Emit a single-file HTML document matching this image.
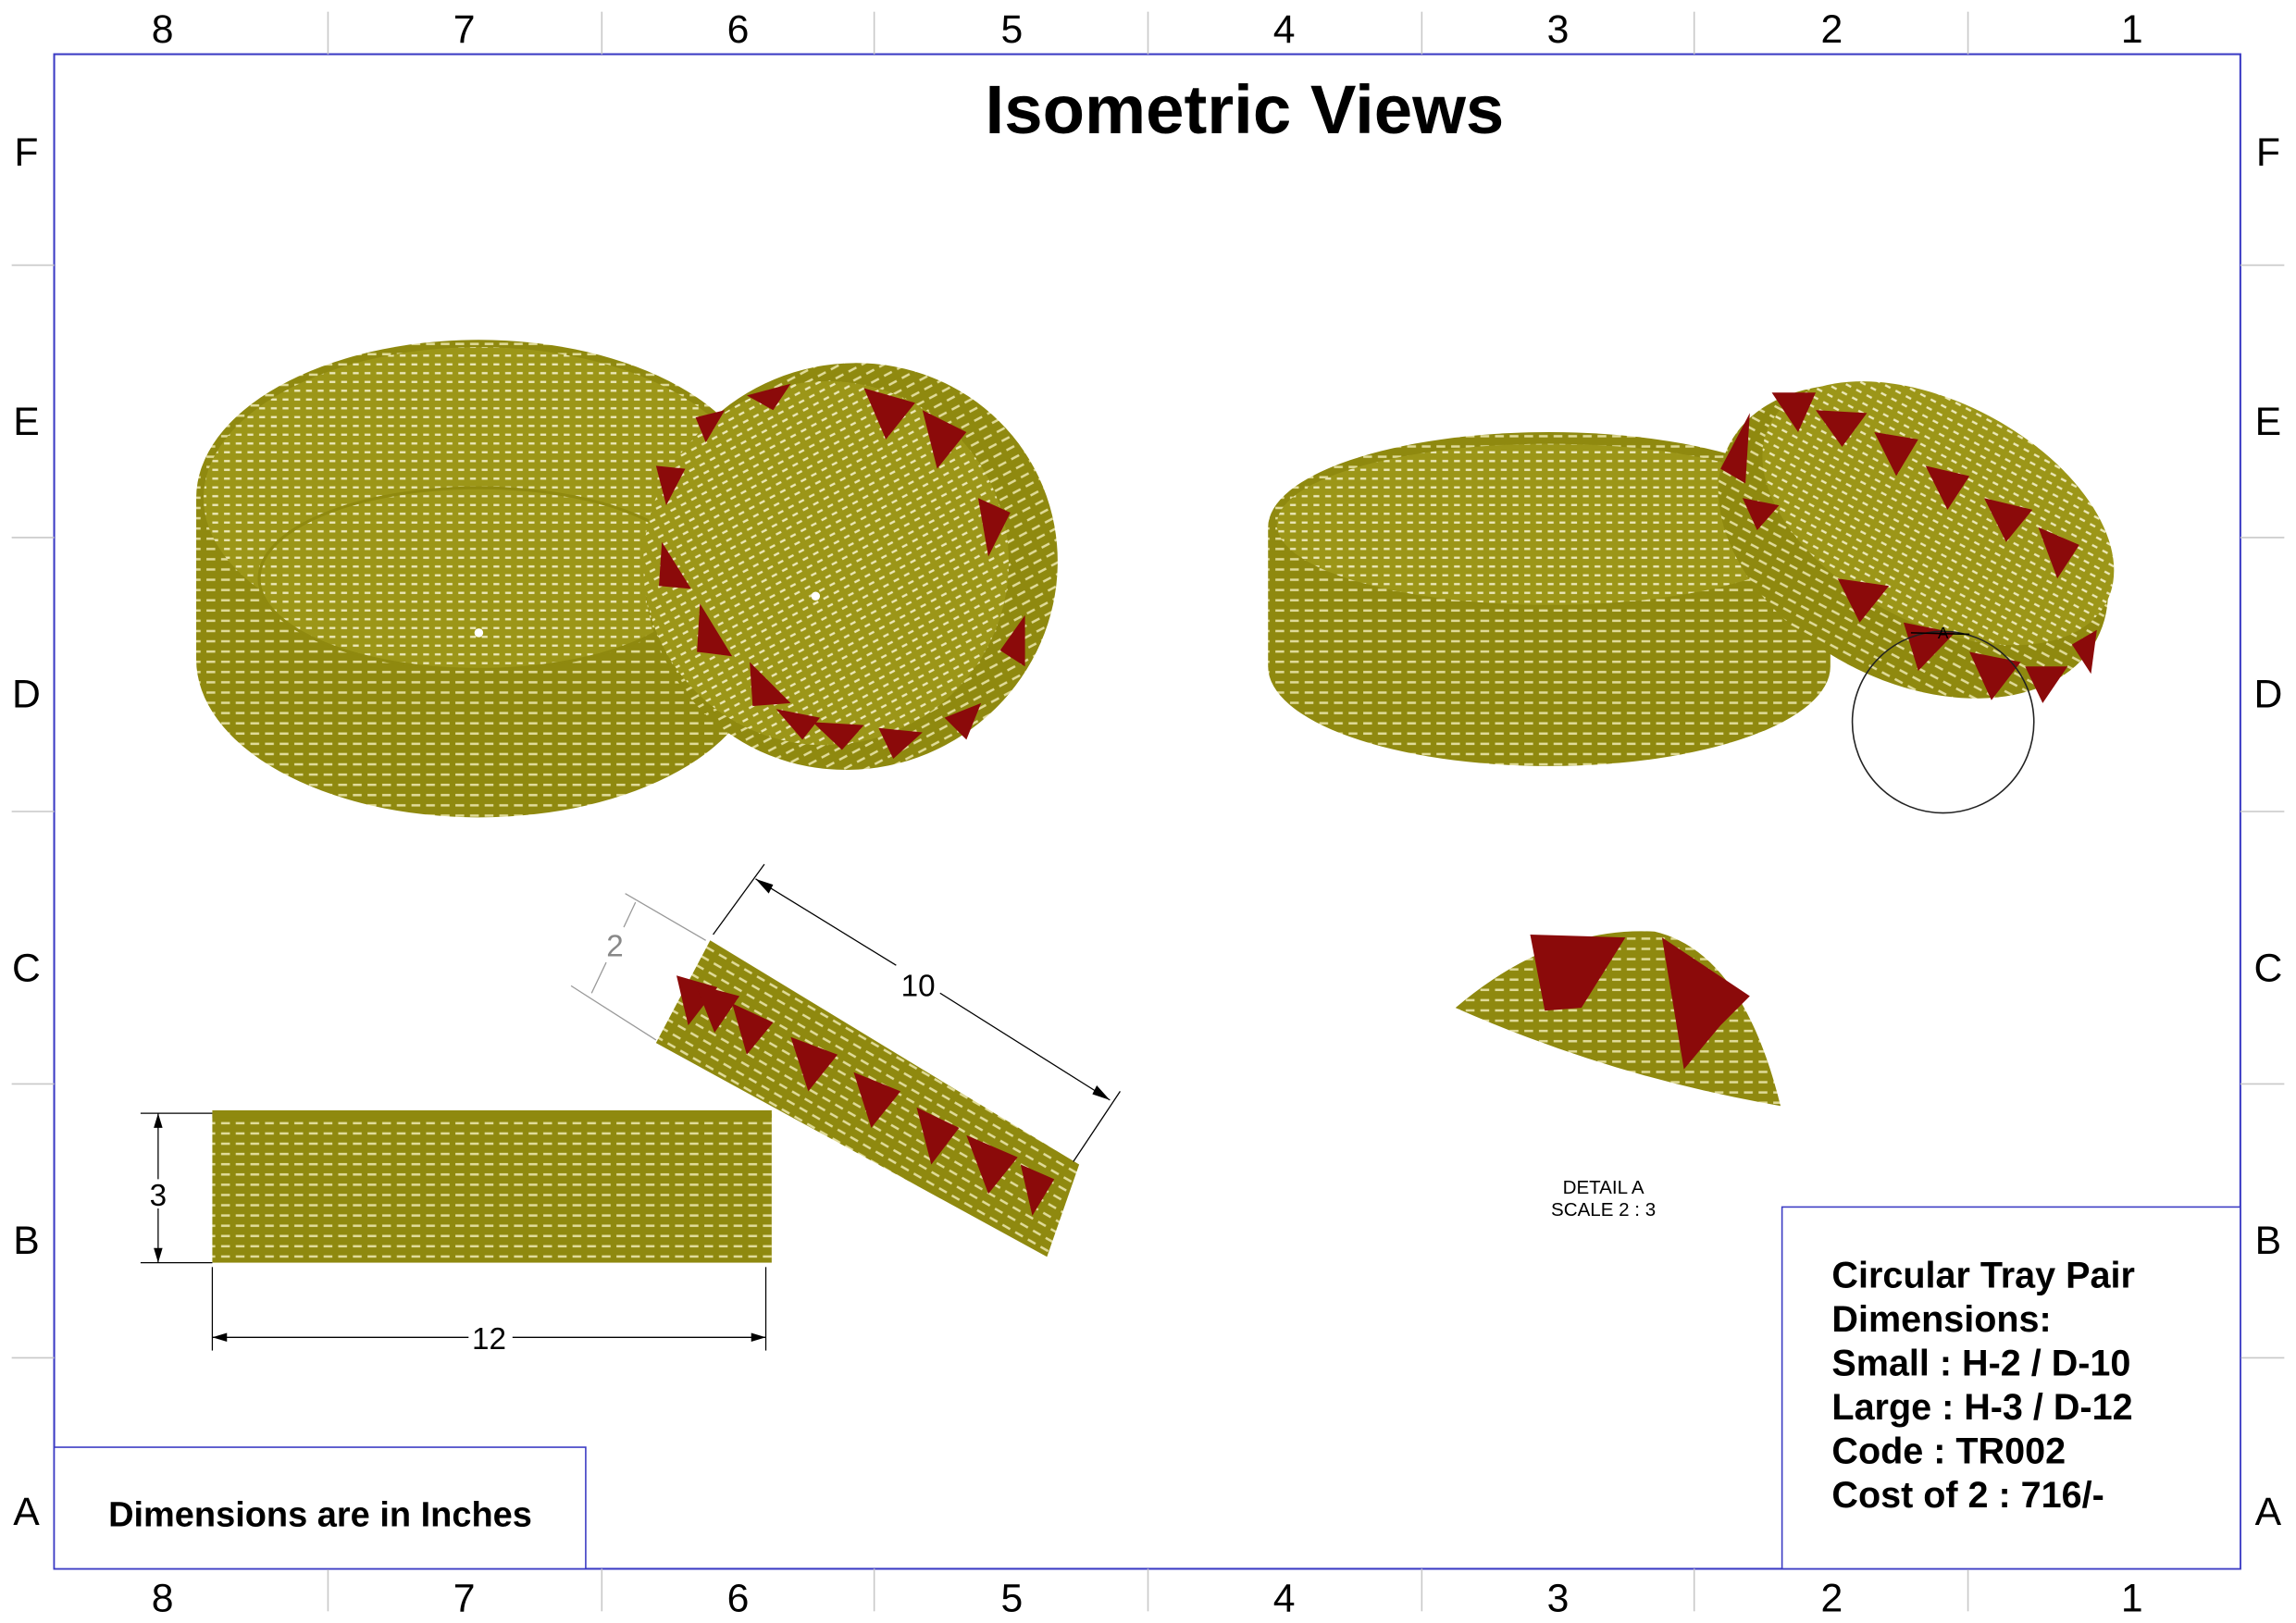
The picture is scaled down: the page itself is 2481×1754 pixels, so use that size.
<!DOCTYPE html>
<html><head><meta charset="utf-8"><style>
html,body{margin:0;padding:0;background:#fff;}
svg{display:block;}
text{font-family:"Liberation Sans",sans-serif;}
</style></head><body>
<svg width="2481" height="1754" viewBox="0 0 1568 1108" preserveAspectRatio="none" xmlns="http://www.w3.org/2000/svg">
<defs>
<pattern id="weave" width="10" height="7" patternUnits="userSpaceOnUse">
<rect width="10" height="7" fill="#8f890f"/>
<rect x="1" y="3" width="6" height="1.6" fill="#e0db98"/>
</pattern>
<pattern id="weaveR" width="10" height="7" patternUnits="userSpaceOnUse" patternTransform="rotate(30)">
<rect width="10" height="7" fill="#8f890f"/>
<rect x="1" y="3" width="6" height="1.6" fill="#e0db98"/>
</pattern>
<pattern id="inner" width="8" height="6" patternUnits="userSpaceOnUse">
<rect width="8" height="6" fill="#9c9618"/>
<rect x="1" y="2" width="4" height="1.5" fill="#ece8b8"/>
</pattern>
</defs>
<rect x="0" y="0" width="1568" height="1108" fill="#fff"/>
<rect x="37" y="37" width="1493" height="1034" fill="none" stroke="#3b3bc4" stroke-width="1.3"/>
<g stroke="#c8c8c8" stroke-width="1">
<line x1="224" y1="8" x2="224" y2="37"/><line x1="411" y1="8" x2="411" y2="37"/><line x1="597" y1="8" x2="597" y2="37"/><line x1="784" y1="8" x2="784" y2="37"/><line x1="971" y1="8" x2="971" y2="37"/><line x1="1157" y1="8" x2="1157" y2="37"/><line x1="1344" y1="8" x2="1344" y2="37"/>
<line x1="224" y1="1071" x2="224" y2="1100"/><line x1="411" y1="1071" x2="411" y2="1100"/><line x1="597" y1="1071" x2="597" y2="1100"/><line x1="784" y1="1071" x2="784" y2="1100"/><line x1="971" y1="1071" x2="971" y2="1100"/><line x1="1157" y1="1071" x2="1157" y2="1100"/><line x1="1344" y1="1071" x2="1344" y2="1100"/>
<line x1="8" y1="181" x2="37" y2="181"/><line x1="8" y1="367" x2="37" y2="367"/><line x1="8" y1="554" x2="37" y2="554"/><line x1="8" y1="740" x2="37" y2="740"/><line x1="8" y1="927" x2="37" y2="927"/>
<line x1="1530" y1="181" x2="1560" y2="181"/><line x1="1530" y1="367" x2="1560" y2="367"/><line x1="1530" y1="554" x2="1560" y2="554"/><line x1="1530" y1="740" x2="1560" y2="740"/><line x1="1530" y1="927" x2="1560" y2="927"/>
</g>
<g font-size="27" fill="#000" text-anchor="middle">
<text x="111" y="29">8</text><text x="317" y="29">7</text><text x="504" y="29">6</text><text x="691" y="29">5</text><text x="877" y="29">4</text><text x="1064" y="29">3</text><text x="1251" y="29">2</text><text x="1456" y="29">1</text>
<text x="111" y="1100">8</text><text x="317" y="1100">7</text><text x="504" y="1100">6</text><text x="691" y="1100">5</text><text x="877" y="1100">4</text><text x="1064" y="1100">3</text><text x="1251" y="1100">2</text><text x="1456" y="1100">1</text>
<text x="18" y="113">F</text><text x="18" y="297">E</text><text x="18" y="483">D</text><text x="18" y="670">C</text><text x="18" y="856">B</text><text x="18" y="1041">A</text>
<text x="1549" y="113">F</text><text x="1549" y="297">E</text><text x="1549" y="483">D</text><text x="1549" y="670">C</text><text x="1549" y="856">B</text><text x="1549" y="1041">A</text>
</g>
<text x="850" y="91" font-size="47" font-weight="bold" text-anchor="middle">Isometric Views</text>

<!-- Large basket top-left -->
<path d="M134,340 A193,108 0 0 1 520,340 L520,450 A193,108 0 0 1 134,450 Z" fill="url(#weave)"/>
<ellipse cx="327" cy="340" rx="188" ry="103" fill="url(#inner)"/>
<ellipse cx="327" cy="395" rx="150" ry="62" fill="url(#inner)" stroke="#8f890f" stroke-width="2"/>
<circle cx="327" cy="432" r="3" fill="#fff"/>
<!-- small tilted basket top-left -->
<g transform="rotate(-28 578 385)">
<ellipse cx="580" cy="388" rx="142" ry="138" fill="url(#weave)"/>
<ellipse cx="566" cy="378" rx="125" ry="124" fill="url(#inner)"/>
</g>
<circle cx="557" cy="407" r="3" fill="#fff"/>
<g fill="#8b0a0a">
<polygon points="452,370 472,402 450,400"/><polygon points="448,318 468,320 455,345"/>
<polygon points="478,412 500,448 476,445"/><polygon points="512,452 540,480 514,482"/>
<polygon points="530,484 560,490 548,505"/><polygon points="555,493 590,495 575,512"/>
<polygon points="600,497 630,500 610,518"/><polygon points="645,490 670,480 660,505"/>
<polygon points="683,444 700,420 700,455"/><polygon points="668,340 690,350 675,380"/>
<polygon points="630,280 660,295 640,320"/><polygon points="590,265 625,275 605,300"/>
<polygon points="510,270 540,262 528,280"/><polygon points="475,285 495,280 482,302"/>
</g>

<!-- Right large basket -->
<path d="M866,360 A192,65 0 0 1 1250,360 L1250,455 A192,68 0 0 1 866,455 Z" fill="url(#weave)"/>
<ellipse cx="1058" cy="358" rx="186" ry="55" fill="url(#inner)"/>
<!-- Right small tilted basket -->
<g transform="rotate(28 1308 367)">
<ellipse cx="1308" cy="370" rx="142" ry="95" fill="url(#weave)"/>
<ellipse cx="1314" cy="345" rx="130" ry="75" fill="url(#inner)"/>
</g>
<g fill="#8b0a0a">
<polygon points="1175,320 1195,282 1192,330"/><polygon points="1190,340 1215,345 1200,362"/>
<polygon points="1210,268 1240,268 1228,295"/><polygon points="1240,280 1275,282 1258,305"/>
<polygon points="1280,295 1310,300 1295,325"/><polygon points="1315,318 1345,325 1330,348"/>
<polygon points="1355,340 1388,348 1370,370"/><polygon points="1392,360 1420,372 1405,395"/>
<polygon points="1255,395 1290,400 1270,425"/><polygon points="1300,425 1335,432 1310,458"/>
<polygon points="1345,445 1380,452 1360,478"/><polygon points="1383,455 1412,455 1395,480"/>
<polygon points="1415,440 1432,430 1428,460"/>
</g>
<circle cx="1327" cy="493" r="62" fill="none" stroke="#222" stroke-width="1"/>
<text x="1327" y="436" font-size="11" text-anchor="middle">A</text>
<line x1="1305" y1="432" x2="1345" y2="433" stroke="#000" stroke-width="1"/>

<!-- Detail A -->
<path d="M994,688 Q1060,632 1130,636 Q1190,650 1216,755 Q1100,735 994,688 Z" fill="url(#weave)"/>
<g fill="#8b0a0a">
<polygon points="1045,638 1110,640 1080,688 1055,690"/>
<polygon points="1135,640 1195,680 1175,700 1150,730"/>
</g>
<text x="1095" y="815" font-size="13" text-anchor="middle">DETAIL A</text>
<text x="1095" y="830" font-size="13" text-anchor="middle">SCALE 2 : 3</text>

<!-- Front view large basket -->
<rect x="145" y="760" width="382" height="102" fill="url(#weave)"/>
<rect x="145" y="758" width="382" height="5" fill="#8f890f"/>
<g stroke="#000" stroke-width="0.8" fill="none">
<line x1="96" y1="760" x2="145" y2="760"/><line x1="96" y1="862" x2="145" y2="862"/>
<line x1="108" y1="760" x2="108" y2="805"/><line x1="108" y1="825" x2="108" y2="862"/>
<line x1="145" y1="865" x2="145" y2="922"/><line x1="523" y1="865" x2="523" y2="922"/>
<line x1="145" y1="913" x2="320" y2="913"/><line x1="350" y1="913" x2="523" y2="913"/>
</g>
<polygon points="108,760 105,770 111,770"/><polygon points="108,862 105,852 111,852"/>
<polygon points="145,913 155,910 155,916"/><polygon points="523,913 513,910 513,916"/>
<text x="108" y="823" font-size="21" text-anchor="middle">3</text>
<text x="334" y="921" font-size="21" text-anchor="middle">12</text>

<!-- Tilted small basket side view -->
<polygon points="485,642 737,795 715,858 448,712" fill="url(#weaveR)"/>
<g fill="#8b0a0a">
<polygon points="462,666 490,674 470,700"/><polygon points="475,672 505,680 488,705"/>
<polygon points="500,685 528,698 510,720"/><polygon points="540,708 572,720 552,745"/>
<polygon points="583,732 615,745 595,770"/><polygon points="626,756 655,770 636,795"/>
<polygon points="660,775 695,790 675,815"/><polygon points="697,795 720,805 705,830"/>
</g>
<g stroke="#000" stroke-width="0.8" fill="none">
<line x1="487" y1="638" x2="522" y2="590"/><line x1="733" y1="793" x2="765" y2="745"/>
<line x1="516" y1="600" x2="612" y2="659"/><line x1="642" y1="678" x2="758" y2="751"/>
</g>
<polygon points="516,600 528,604 525,610"/><polygon points="758,751 746,747 749,741"/>
<text x="627" y="680" font-size="21" text-anchor="middle">10</text>
<g stroke="#999" stroke-width="0.8">
<line x1="482" y1="642" x2="427" y2="610"/><line x1="448" y1="710" x2="390" y2="673"/>
<line x1="434" y1="616" x2="426" y2="633"/><line x1="414" y1="657" x2="404" y2="678"/>
</g>
<text x="420" y="653" font-size="21" fill="#888" text-anchor="middle">2</text>

<!-- bottom boxes -->
<rect x="37" y="988" width="363" height="83" fill="#fff" stroke="#3b3bc4" stroke-width="1"/>
<text x="74" y="1042" font-size="24" font-weight="bold">Dimensions are in Inches</text>
<rect x="1217" y="824" width="313" height="247" fill="#fff" stroke="#3b3bc4" stroke-width="1"/>
<g font-size="25" font-weight="bold">
<text x="1251" y="879">Circular Tray Pair</text>
<text x="1251" y="909">Dimensions:</text>
<text x="1251" y="939">Small : H-2 / D-10</text>
<text x="1251" y="969">Large : H-3 / D-12</text>
<text x="1251" y="999">Code : TR002</text>
<text x="1251" y="1029">Cost of 2 : 716/-</text>
</g>
</svg>
</body></html>
